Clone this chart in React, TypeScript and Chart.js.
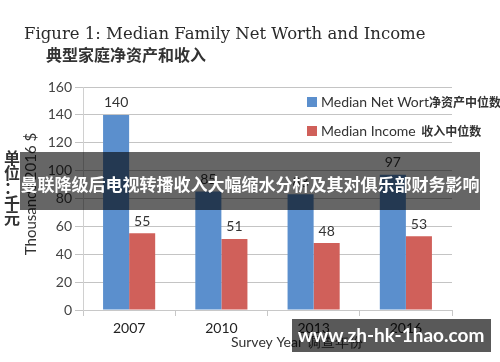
import React, { useEffect, useRef } from "react";
import { Chart, registerables } from "chart.js";

Chart.register(...registerables);

const years = ["2007", "2010", "2013", "2016"];
const netWorth = [140, 85, 83, 97];
const income = [55, 51, 48, 53];
const netWorthLabel = "Median Net Wort净资产中位数";
const incomeLabel = "Median Income 收入中位数";
const yTicksMax = 160;
const yTickStep = 20;
const titleText = "Figure 1: Median Family Net Worth and Income";
const subtitleText = "典型家庭净资产和收入";
const yTitleText = "Thousands 2016 $";
const yUnitChars = ["单", "位", "：", "千", "元"];
const xTitleText = "Survey Year 调查年份";
const bannerText = "曼联降级后电视转播收入大幅缩水分析及其对俱乐部财务影响";
const watermarkText = "www.zh-hk-1hao.com";

const BLUE = "#5b8fcd";
const RED = "#d0605a";
const SANS = "Lato, 'Open Sans', sans-serif";
const CJK = "'Noto Sans CJK SC', sans-serif";

const decorPlugin = {
  id: "decor",
  afterDatasetsDraw(chart: any) {
    const ctx = chart.ctx;
    ctx.save();
    // data labels
    ctx.fillStyle = "#333";
    ctx.font = `14px ${SANS}`;
    ctx.textAlign = "center";
    ctx.textBaseline = "middle";
    chart.data.datasets.forEach((ds: any, i: number) => {
      const meta = chart.getDatasetMeta(i);
      meta.data.forEach((el: any, j: number) => {
        ctx.fillText(String(ds.data[j]), el.x, el.y - 12);
      });
    });
    // legend
    const lx = 307;
    const rows = [102, 131];
    chart.data.datasets.forEach((ds: any, i: number) => {
      ctx.fillStyle = ds.backgroundColor;
      ctx.fillRect(lx, rows[i] - 5, 10, 10);
      ctx.fillStyle = "#333";
      ctx.textAlign = "left";
      const m = /^([\x00-\x7F]*)(.*)$/.exec(ds.label) as RegExpExecArray;
      ctx.font = `14px ${SANS}`;
      ctx.fillText(m[1], lx + 14, rows[i]);
      const w = ctx.measureText(m[1]).width;
      ctx.font = `bold 12px ${CJK}`;
      ctx.fillText(m[2], lx + 14 + w + (m[1].endsWith(" ") ? 2 : 0), rows[i]);
    });
    // titles
    ctx.fillStyle = "#2a2a2a";
    ctx.textAlign = "left";
    ctx.font = `16.5px 'DejaVu Serif', serif`;
    ctx.fillText(titleText, 24, 35);
    ctx.font = `bold 16px ${CJK}`;
    ctx.fillStyle = "#333";
    ctx.fillText(subtitleText, 46, 55);
    // y title
    ctx.save();
    ctx.translate(31, 194);
    ctx.rotate(-Math.PI / 2);
    ctx.textAlign = "center";
    ctx.font = `15px ${SANS}`;
    ctx.fillStyle = "#333";
    ctx.fillText(yTitleText, 0, 0);
    ctx.restore();
    ctx.font = `bold 16px ${CJK}`;
    ctx.textAlign = "center";
    ctx.fillStyle = "#333";
    yUnitChars.forEach((c, i) => {
      ctx.fillText(c, 12, 158 + i * 15);
    });
    // x title
    ctx.font = `14px ${SANS}`;
    ctx.textAlign = "left";
    ctx.fillText(xTitleText, 231, 342);
    // banner
    ctx.fillStyle = "rgba(0,0,0,0.6)";
    ctx.fillRect(20, 152, 460, 58);
    ctx.fillStyle = "#fff";
    ctx.font = `bold 17px ${CJK}`;
    ctx.textAlign = "center";
    ctx.fillText(bannerText, 250, 185);
    // watermark
    ctx.fillStyle = "rgba(0,0,0,0.65)";
    ctx.fillRect(292, 319, 199, 33);
    ctx.fillStyle = "#fff";
    ctx.font = `bold 19px ${SANS}`;
    ctx.fillText(watermarkText, 391, 336);
    ctx.restore();
  },
};

export default function App() {
  const ref = useRef<HTMLCanvasElement>(null);
  useEffect(() => {
    const chart = new Chart(ref.current as HTMLCanvasElement, {
      type: "bar",
      data: {
        labels: years,
        datasets: [
          { label: netWorthLabel, data: netWorth, backgroundColor: BLUE },
          { label: incomeLabel, data: income, backgroundColor: RED },
        ],
      },
      options: {
        responsive: false,
        animation: false,
        devicePixelRatio: 1,
        layout: { padding: { top: 87, right: 48, left: 0, bottom: 0 } },
        datasets: { bar: { categoryPercentage: 0.565, barPercentage: 1 } },
        plugins: {
          legend: { display: false },
          title: { display: false },
          tooltip: { enabled: false },
        },
        scales: {
          x: {
            grid: { drawOnChartArea: false, drawTicks: true, tickLength: 6, color: "#c8c8c8" },
            border: { color: "#c8c8c8" },
            ticks: { color: "#222", font: { family: SANS, size: 14 }, padding: 4 },
            afterFit: (s: any) => { s.height = 52; },
          },
          y: {
            min: 0,
            max: yTicksMax,
            ticks: { stepSize: yTickStep, color: "#444", font: { family: SANS, size: 14 }, padding: 3 },
            grid: { color: "#c4c4c4", tickLength: 8 },
            border: { color: "#d0d0d0" },
            afterFit: (s: any) => { s.width = 83; },
          },
        },
      },
      plugins: [decorPlugin],
    });
    return () => chart.destroy();
  }, []);
  return (
    <div style={{ position: "fixed", left: 0, top: 0, width: 500, height: 362, background: "#fff" }}>
      <canvas ref={ref} width={500} height={362} />
    </div>
  );
}
